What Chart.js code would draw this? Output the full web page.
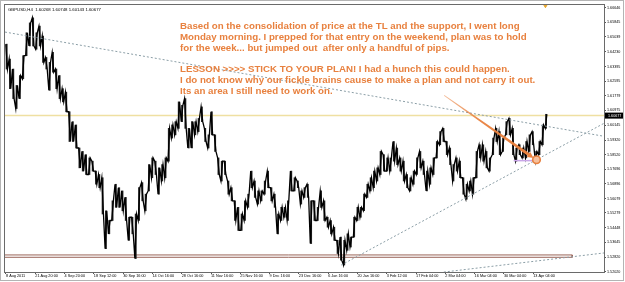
<!DOCTYPE html>
<html lang="en">
<head>
  <meta charset="UTF-8" />
  <title>GBPUSD,H4</title>
  <style>
    html, body { margin: 0; padding: 0; background: #fff; }
    canvas { display: block; }
  </style>
</head>
<body>
  <canvas id="chart" width="625" height="282"></canvas>

  <script src="https://cdn.jsdelivr.net/npm/chart.js"></script>
  <script>
    // price ranges, one column per ~7 H4 bars
    const highs = [
      1.6464, 1.6381, 1.6326, 1.6235, 1.6290, 1.6400, 1.6527, 1.6582, 1.6610, 1.6527,
      1.6564, 1.6509, 1.6390, 1.6363, 1.6418, 1.6326, 1.6290, 1.6217, 1.6198, 1.6089,
      1.6034, 1.6016, 1.5888, 1.5869, 1.5851, 1.5833, 1.5815, 1.5760, 1.5741, 1.5723,
      1.5540, 1.5486, 1.5595, 1.5687, 1.5668, 1.5650, 1.5614, 1.5504, 1.5504, 1.5522,
      1.5668, 1.5696, 1.5632, 1.5796, 1.5833, 1.5815, 1.5778, 1.5796, 1.5833, 1.5997,
      1.6016, 1.6034, 1.6144, 1.6125, 1.6162, 1.5997, 1.6034, 1.6034, 1.6052, 1.6116,
      1.5997, 1.5961, 1.6089, 1.5961, 1.5833, 1.5815, 1.5815, 1.5705, 1.5668, 1.5595,
      1.5559, 1.5522, 1.5595, 1.5632, 1.5760, 1.5705, 1.5650, 1.5650, 1.5705, 1.5760,
      1.5668, 1.5632, 1.5522, 1.5559, 1.5559, 1.5595, 1.5760, 1.5723, 1.5705, 1.5650,
      1.5668, 1.5687, 1.5595, 1.5595, 1.5559, 1.5650, 1.5595, 1.5504, 1.5486, 1.5449,
      1.5376, 1.5394, 1.5376, 1.5412, 1.5394, 1.5504, 1.5559, 1.5559, 1.5632, 1.5687,
      1.5723, 1.5760, 1.5778, 1.5869, 1.5851, 1.5833, 1.5833, 1.5924, 1.5888, 1.5833,
      1.5815, 1.5741, 1.5723, 1.5760, 1.5833, 1.5869, 1.5815, 1.5760, 1.5778, 1.5833,
      1.5924, 1.5979, 1.5997, 1.5924, 1.5888, 1.5796, 1.5833, 1.5815, 1.5723, 1.5687,
      1.5705, 1.5723, 1.5869, 1.5906, 1.5906, 1.5869, 1.5833, 1.5943, 1.5997, 1.5979,
      1.5943, 1.6034, 1.6052, 1.5997, 1.5888, 1.5906, 1.5888, 1.5924, 1.5961, 1.5979,
      1.5869, 1.5924, 1.6016, 1.6075
    ];
    const lows = [
      1.6326, 1.6217, 1.6162, 1.6107, 1.6162, 1.6272, 1.6400, 1.6454, 1.6454, 1.6436,
      1.6454, 1.6363, 1.6326, 1.6208, 1.6308, 1.6217, 1.6162, 1.6144, 1.6089, 1.5924,
      1.5924, 1.5888, 1.5778, 1.5760, 1.5741, 1.5741, 1.5760, 1.5687, 1.5668, 1.5522,
      1.5330, 1.5412, 1.5486, 1.5559, 1.5559, 1.5540, 1.5486, 1.5376, 1.5412, 1.5275,
      1.5486, 1.5595, 1.5540, 1.5650, 1.5723, 1.5741, 1.5632, 1.5705, 1.5723, 1.5815,
      1.5943, 1.5961, 1.5997, 1.6034, 1.5997, 1.5888, 1.5888, 1.5961, 1.5979, 1.6034,
      1.5924, 1.5888, 1.5961, 1.5869, 1.5741, 1.5705, 1.5741, 1.5632, 1.5595, 1.5486,
      1.5431, 1.5431, 1.5486, 1.5559, 1.5668, 1.5614, 1.5577, 1.5595, 1.5632, 1.5668,
      1.5595, 1.5559, 1.5412, 1.5486, 1.5504, 1.5486, 1.5650, 1.5650, 1.5668, 1.5577,
      1.5614, 1.5614, 1.5358, 1.5486, 1.5486, 1.5559, 1.5486, 1.5449, 1.5412, 1.5376,
      1.5303, 1.5266, 1.5239, 1.5321, 1.5339, 1.5394, 1.5486, 1.5504, 1.5540, 1.5614,
      1.5650, 1.5668, 1.5705, 1.5741, 1.5760, 1.5760, 1.5760, 1.5815, 1.5796, 1.5760,
      1.5705, 1.5668, 1.5650, 1.5687, 1.5741, 1.5778, 1.5741, 1.5650, 1.5687, 1.5741,
      1.5833, 1.5906, 1.5924, 1.5851, 1.5796, 1.5705, 1.5760, 1.5723, 1.5632, 1.5604,
      1.5650, 1.5632, 1.5723, 1.5833, 1.5815, 1.5778, 1.5760, 1.5851, 1.5924, 1.5851,
      1.5869, 1.5961, 1.5961, 1.5851, 1.5815, 1.5851, 1.5833, 1.5833, 1.5869, 1.5906,
      1.5815, 1.5851, 1.5906, 1.5997
    ];
    const totalColumns = 181;

    const xLabels = [
      '8 Aug 2011', '21 Aug 20:00', '4 Sep 20:00', '18 Sep 12:00', '30 Sep 16:00',
      '14 Oct 16:00', '28 Oct 16:00', '11 Nov 16:00', '25 Nov 16:00', '9 Dec 16:00',
      '23 Dec 16:00', '6 Jan 16:00', '20 Jan 16:00', '3 Feb 12:00', '17 Feb 04:00',
      '2 Mar 04:00', '16 Mar 04:00', '30 Mar 04:00', '13 Apr 04:00'
    ];
    const yTicks = [
      1.66646, 1.65845, 1.65039, 1.64230, 1.63395, 1.62595, 1.61779, 1.60975, 1.60145,
      1.59320, 1.58520, 1.57696, 1.56896, 1.56079, 1.55279, 1.54448, 1.53645, 1.52820, 1.52020
    ];
    const lastPrice = 1.60677;
    const header = 'GBPUSD,H4  1.60268 1.60748 1.60143 1.60677';

    // drawn objects, in (column, price)
    const trendDown = [{ x: 0, y: 1.6531 }, { x: 181, y: 1.5953 }];
    const trendUp = [{ x: 101.6, y: 1.5239 }, { x: 181, y: 1.6025 }];
    const trendLow = [{ x: 132.6, y: 1.5200 }, { x: 181, y: 1.5306 }];
    const supportBox = [
      { x: 0, y: 1.5295 }, { x: 171.4, y: 1.5295 },
      { x: 171.4, y: 1.5282 }, { x: 0, y: 1.5282 }
    ];
    const entryLine = [{ x: 153.7, y: 1.5818 }, { x: 159.7, y: 1.5818 }];
    const arrowFrom = { x: 132.7, y: 1.6180 };
    const arrowTo = { x: 159.7, y: 1.5833 };
    const entryPoint = { x: 160.6, y: 1.5823 };
    const topMark = [{ x: 163.3, y: 1.6677 }];

    const notes = [
      'Based on the consolidation of price at the TL and the support, I went long',
      'Monday morning. I prepped for that entry on the weekend, plan was to hold',
      'for the week... but jumped out  after only a handful of pips.',
      '',
      'LESSON >>>> STICK TO YOUR PLAN! I had a hunch this could happen.',
      'I do not know why our fickle brains cause to make a plan and not carry it out.',
      'Its an area I still need to work on.'
    ];

    // ranges as thin bars, plus a path that zigzags through each column's high and low
    const bars = highs.map((h, i) => ({ x: i + 0.5, y: [lows[i], h] }));
    const trace = [];
    highs.forEach((h, i) => {
      const mid = (h + lows[i]) / 2;
      const next = i + 1 < highs.length ? (highs[i + 1] + lows[i + 1]) / 2 : h;
      if (next >= mid) {
        trace.push({ x: i + 0.25, y: lows[i] }, { x: i + 0.75, y: h });
      } else {
        trace.push({ x: i + 0.25, y: h }, { x: i + 0.75, y: lows[i] });
      }
    });

    const orange = '#e8813f';
    const dotted = '#8b9ea6';

    const overlay = {
      id: 'overlay',
      beforeDatasetsDraw(chart) {
        const { ctx, chartArea: a, scales: { y } } = chart;
        // bid line
        const py = y.getPixelForValue(lastPrice);
        ctx.save();
        ctx.strokeStyle = '#efe0a2';
        ctx.lineWidth = 1.5;
        ctx.beginPath();
        ctx.moveTo(a.left, py);
        ctx.lineTo(a.right, py);
        ctx.stroke();
        ctx.restore();
      },
      afterDraw(chart) {
        const { ctx, chartArea: a, scales: { x, y } } = chart;
        ctx.save();

        // outer window edge and chart frame
        ctx.strokeStyle = '#b4b4b4';
        ctx.lineWidth = 1;
        ctx.strokeRect(0.5, 0.5, 623, 280);
        ctx.strokeStyle = '#6a6a6a';
        ctx.strokeRect(a.left - 0.5, a.top - 0.5, a.right - a.left + 1, a.bottom - a.top + 1);

        // header
        ctx.fillStyle = '#000';
        ctx.font = '4.3px "Liberation Sans", Arial, sans-serif';
        ctx.textBaseline = 'middle';
        ctx.fillText(header, a.left + 3, a.top + 5);

        // last price box on the axis
        const py = y.getPixelForValue(lastPrice);
        ctx.fillStyle = '#000';
        ctx.fillRect(a.right + 1, py - 3, 18, 6);
        ctx.fillStyle = '#fff';
        ctx.font = '3.7px "Liberation Sans", Arial, sans-serif';
        ctx.fillText(lastPrice.toFixed(5), a.right + 4, py);

        // arrow, thin at the start and wider at the head
        const x0 = x.getPixelForValue(arrowFrom.x), y0 = y.getPixelForValue(arrowFrom.y);
        const x1 = x.getPixelForValue(arrowTo.x), y1 = y.getPixelForValue(arrowTo.y);
        const ang = Math.atan2(y1 - y0, x1 - x0);
        const len = Math.hypot(x1 - x0, y1 - y0);
        ctx.translate(x0, y0);
        ctx.rotate(ang);
        const grad = ctx.createLinearGradient(0, 0, len, 0);
        grad.addColorStop(0, 'rgba(232,129,63,0.5)');
        grad.addColorStop(0.4, 'rgba(232,129,63,0.95)');
        grad.addColorStop(1, orange);
        ctx.fillStyle = grad;
        ctx.beginPath();
        ctx.moveTo(0, -0.4);
        ctx.lineTo(len - 6, -1.5);
        ctx.lineTo(len - 6, -3);
        ctx.lineTo(len, 0);
        ctx.lineTo(len - 6, 3);
        ctx.lineTo(len - 6, 1.5);
        ctx.lineTo(0, 0.4);
        ctx.closePath();
        ctx.fill();
        ctx.setTransform(1, 0, 0, 1, 0, 0);

        // entry circle
        const cx = x.getPixelForValue(entryPoint.x), cy = y.getPixelForValue(entryPoint.y);
        ctx.beginPath();
        ctx.arc(cx, cy, 3.8, 0, Math.PI * 2);
        ctx.fillStyle = '#f6c09c';
        ctx.fill();
        ctx.lineWidth = 1.6;
        ctx.strokeStyle = orange;
        ctx.stroke();

        // notes, sized so the first line spans the same width as the original
        ctx.font = 'bold 10px "Liberation Sans", Arial, sans-serif';
        const size = 10 * 340 / ctx.measureText(notes[0]).width;
        ctx.font = 'bold ' + size.toFixed(2) + 'px "Liberation Sans", Arial, sans-serif';
        ctx.fillStyle = orange;
        ctx.textBaseline = 'alphabetic';
        notes.forEach((t, i) => {
          if (t) ctx.fillText(t, a.left + 175, a.top + 24 + i * 10.85);
        });
        ctx.restore();
      }
    };

    const lineSet = (data, color, extra) => Object.assign({
      type: 'line',
      data: data,
      borderColor: color,
      borderWidth: 1,
      pointRadius: 0,
      fill: false,
      tension: 0,
      order: 0
    }, extra || {});

    new Chart(document.getElementById('chart'), {
      type: 'bar',
      data: {
        datasets: [
          lineSet(trendDown, dotted, { borderDash: [2, 2] }),
          lineSet(trendUp, dotted, { borderDash: [2, 2] }),
          lineSet(trendLow, dotted, { borderDash: [2, 2] }),
          lineSet(supportBox, '#9a6458', { order: 3 }),
          lineSet(entryLine, '#c9a6e8', { borderWidth: 1.5 }),
          lineSet(topMark, '#e8a830', {
            showLine: false, pointRadius: 2, pointStyle: 'triangle',
            rotation: 180, pointBackgroundColor: '#e8a830'
          }),
          lineSet(trace, '#000', { borderWidth: 1.3, order: 1, borderJoinStyle: 'miter' }),
          {
            type: 'bar',
            data: bars,
            backgroundColor: '#222',
            borderWidth: 0,
            barThickness: 1.2,
            order: 2
          }
        ]
      },
      options: {
        responsive: false,
        animation: false,
        layout: { padding: { left: 2, top: 2, right: 0, bottom: 1 } },
        plugins: { legend: { display: false }, tooltip: { enabled: false } },
        scales: {
          x: {
            type: 'linear',
            min: 0,
            max: totalColumns,
            offset: false,
            afterBuildTicks: (s) => { s.ticks = xLabels.map((l, i) => ({ value: 0.3 + i * 8.85 })); },
            afterFit: (s) => { s.height = 9; },
            ticks: {
              autoSkip: false,
              maxRotation: 0,
              minRotation: 0,
              align: 'start',
              padding: 0,
              color: '#000',
              font: { size: 3.8, family: '"Liberation Sans", Arial, sans-serif' },
              callback: (v, i) => xLabels[i]
            },
            grid: { display: true, offset: false, drawOnChartArea: false, drawTicks: true, tickLength: 2, color: '#555' },
            border: { display: false }
          },
          y: {
            type: 'linear',
            position: 'right',
            min: 1.52004,
            max: 1.66811,
            afterBuildTicks: (s) => { s.ticks = yTicks.map(v => ({ value: v })); },
            afterFit: (s) => { s.width = 21; },
            ticks: {
              padding: 1,
              color: '#000',
              font: { size: 3.7, family: '"Liberation Sans", Arial, sans-serif' },
              callback: (v) => v.toFixed(5)
            },
            grid: { display: true, drawOnChartArea: false, drawTicks: true, tickLength: 2, color: '#555' },
            border: { display: false }
          }
        }
      },
      plugins: [overlay]
    });
  </script>
</body>
</html>
